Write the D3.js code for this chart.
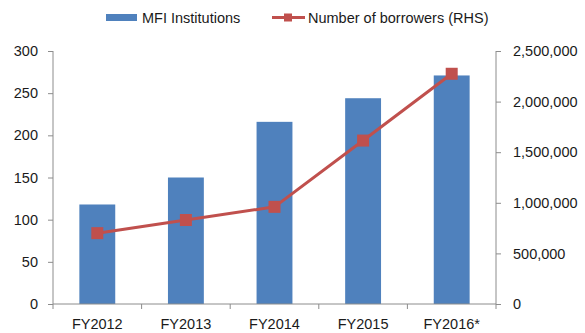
<!DOCTYPE html>
<html>
<head>
<meta charset="utf-8">
<script src="https://cdn.jsdelivr.net/npm/d3@7"></script>
<style>
  html, body { margin: 0; padding: 0; background: #fff; }
  svg { display: block; }
  text { font-family: "Liberation Sans", Arial, sans-serif; fill: #1a1a1a; }
</style>
</head>
<body>
<svg id="chart" width="585" height="333"></svg>
<script>
// Fiscal years on the category axis
const years = ["FY2012", "FY2013", "FY2014", "FY2015", "FY2016*"];
// Count of MFI institutions (left axis, bars)
const institutions = [118, 150, 216, 244, 271];
// Number of borrowers (right axis, line)
const borrowers = [700000, 830000, 960000, 1615000, 2275000];
// Axis ticks
const leftTicks = [0, 50, 100, 150, 200, 250, 300];
const rightTicks = [0, 500000, 1000000, 1500000, 2000000, 2500000];

const BLUE = "#4F81BD";
const RED = "#C0504D";
const AXIS = "#8c8c8c";

const svg = d3.select("#chart");
const plot = { left: 53, right: 496, top: 51, bottom: 304 };

const x = d3.scaleBand()
  .domain(years)
  .range([plot.left, plot.right])
  .paddingInner(0.595)
  .paddingOuter(0.2975);

const yLeft = d3.scaleLinear().domain([0, 300]).range([plot.bottom, plot.top]);
const yRight = d3.scaleLinear().domain([0, 2500000]).range([plot.bottom, plot.top]);

const fmt = d3.format(",");

// Bars
svg.append("g")
  .selectAll("rect")
  .data(years)
  .join("rect")
  .attr("x", d => x(d))
  .attr("y", (d, i) => yLeft(institutions[i]))
  .attr("width", x.bandwidth())
  .attr("height", (d, i) => yLeft(0) - yLeft(institutions[i]))
  .attr("fill", BLUE);

// Left axis
const gl = svg.append("g")
  .attr("transform", `translate(${plot.left},0)`)
  .call(d3.axisLeft(yLeft).tickValues(leftTicks).tickSize(5).tickPadding(10).tickFormat(d3.format("d")));
gl.select(".domain").attr("stroke", AXIS).attr("d", `M0,${plot.top}V${plot.bottom}`);
gl.selectAll(".tick line").attr("stroke", AXIS);
gl.selectAll(".tick text").attr("font-size", 14.5).attr("font-family", null).attr("fill", "#1a1a1a");

// Right axis
const gr = svg.append("g")
  .attr("transform", `translate(${plot.right},0)`)
  .call(d3.axisRight(yRight).tickValues(rightTicks).tickSize(5).tickPadding(12).tickFormat(fmt));
gr.select(".domain").attr("stroke", AXIS).attr("d", `M0,${plot.top}V${plot.bottom}`);
gr.selectAll(".tick line").attr("stroke", AXIS);
gr.selectAll(".tick text").attr("font-size", 14.5).attr("font-family", null).attr("fill", "#1a1a1a");

// Category axis with ticks on the category boundaries
const gb = svg.append("g")
  .attr("transform", `translate(0,${plot.bottom})`);
gb.append("line")
  .attr("x1", plot.left).attr("x2", plot.right)
  .attr("stroke", AXIS);
const step = x.step();
const bounds = d3.range(years.length + 1).map(i => plot.left + i * (plot.right - plot.left) / years.length);
gb.selectAll("line.tk")
  .data(bounds)
  .join("line")
  .attr("class", "tk")
  .attr("x1", d => d).attr("x2", d => d)
  .attr("y1", 0).attr("y2", 5)
  .attr("stroke", AXIS);
gb.selectAll("text")
  .data(years)
  .join("text")
  .attr("x", d => x(d) + x.bandwidth() / 2)
  .attr("y", 25)
  .attr("text-anchor", "middle")
  .attr("font-size", 14.5)
  .text(d => d);

// Borrowers line with square markers
const line = d3.line()
  .x((d, i) => x(years[i]) + x.bandwidth() / 2)
  .y(d => yRight(d));
svg.append("path")
  .datum(borrowers)
  .attr("d", line)
  .attr("fill", "none")
  .attr("stroke", RED)
  .attr("stroke-width", 3);
const M = 12;
svg.append("g")
  .selectAll("rect")
  .data(borrowers)
  .join("rect")
  .attr("x", (d, i) => x(years[i]) + x.bandwidth() / 2 - M / 2)
  .attr("y", d => yRight(d) - M / 2)
  .attr("width", M)
  .attr("height", M)
  .attr("fill", RED);

// Legend
const lg = svg.append("g");
lg.append("rect")
  .attr("x", 106).attr("y", 14).attr("width", 31).attr("height", 7)
  .attr("fill", BLUE);
lg.append("text")
  .attr("x", 142).attr("y", 23)
  .attr("font-size", 14.5)
  .text("MFI Institutions");
lg.append("line")
  .attr("x1", 272).attr("x2", 305).attr("y1", 17.5).attr("y2", 17.5)
  .attr("stroke", RED).attr("stroke-width", 3);
lg.append("rect")
  .attr("x", 284).attr("y", 13.5).attr("width", 8).attr("height", 8)
  .attr("fill", RED);
lg.append("text")
  .attr("x", 308).attr("y", 23)
  .attr("font-size", 14.5)
  .text("Number of borrowers (RHS)");
</script>
</body>
</html>
